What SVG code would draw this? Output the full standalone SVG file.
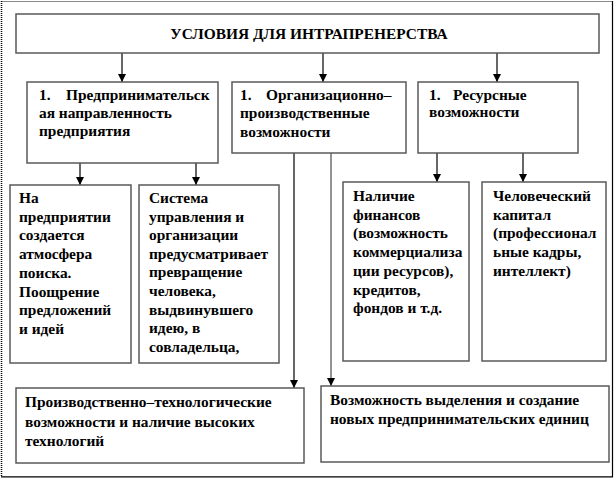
<svg xmlns="http://www.w3.org/2000/svg" width="615" height="478" viewBox="0 0 615 478">
<style>
text{font-family:"Liberation Serif","Times New Roman","DejaVu Serif",serif;font-weight:bold;font-size:15.4px;fill:#000}
.box{fill:#fff;stroke:#5a5a5a;stroke-width:1.5}
.c{stroke:#000;stroke-width:1.2;fill:none}
.g{stroke:#777;stroke-width:1.6;fill:none}
</style>
<defs>
<marker id="ah" viewBox="0 0 8 8" refX="8" refY="4" markerWidth="8" markerHeight="8" markerUnits="userSpaceOnUse" orient="auto">
<path d="M0,0 L8,4 L0,8 z" fill="#000"/>
</marker>
</defs>
<rect x="0" y="0" width="615" height="478" fill="#fff"/>
<g id="frame">
<line x1="1" y1="1.5" x2="613" y2="1.5" stroke="#888" stroke-width="1"/>
<line x1="612.5" y1="1" x2="612.5" y2="477" stroke="#000" stroke-width="1.2"/>
<line x1="1" y1="476.8" x2="613" y2="476.8" stroke="#000" stroke-width="1.2"/>
<line x1="1.5" y1="1" x2="1.5" y2="477" stroke="#000" stroke-width="1.5" stroke-dasharray="1,1"/>
</g>
<g id="connectors">
<line class="c" x1="122" y1="53" x2="122" y2="82" marker-end="url(#ah)"/>
<line class="c" x1="323" y1="53" x2="323" y2="82" marker-end="url(#ah)"/>
<line class="c" x1="497" y1="53" x2="497" y2="82" marker-end="url(#ah)"/>
<line class="c" x1="80" y1="163" x2="80" y2="185" marker-end="url(#ah)"/>
<line class="c" x1="196" y1="163" x2="196" y2="185" marker-end="url(#ah)"/>
<line class="c" x1="437" y1="153" x2="437" y2="182" marker-end="url(#ah)"/>
<line class="c" x1="523" y1="153" x2="523" y2="182" marker-end="url(#ah)"/>
<line class="c" x1="294" y1="153" x2="294" y2="388" marker-end="url(#ah)"/>
<line class="g" x1="331" y1="153" x2="331" y2="386" marker-end="url(#ah)"/>
</g>
<g id="top">
<rect class="box" x="16" y="14" width="583" height="39"/>
<text x="309" y="39" text-anchor="middle">УСЛОВИЯ ДЛЯ ИНТРАПРЕНЕРСТВА</text>
</g>
<g id="nodeA">
<rect class="box" x="27" y="82" width="191" height="81"/>
<text x="39" y="100">1.</text>
<text x="66" y="100">Предпринимательск</text>
<text x="39" y="118">ая направленность</text>
<text x="39" y="136">предприятия</text>
</g>
<g id="nodeB">
<rect class="box" x="232" y="82" width="174" height="71"/>
<text x="240" y="100">1.</text>
<text x="266" y="100">Организационно–</text>
<text x="240" y="118">производственные</text>
<text x="240" y="137">возможности</text>
</g>
<g id="nodeC">
<rect class="box" x="418" y="82" width="160" height="71"/>
<text x="429" y="100">1.</text>
<text x="453" y="100">Ресурсные</text>
<text x="429" y="117">возможности</text>
</g>
<g id="nodeD">
<rect class="box" x="10" y="185" width="121" height="178"/>
<text x="19" y="203">На</text>
<text x="19" y="221.7">предприятии</text>
<text x="19" y="240.4">создается</text>
<text x="19" y="259">атмосфера</text>
<text x="19" y="277.8">поиска.</text>
<text x="19" y="296.5">Поощрение</text>
<text x="19" y="315">предложений</text>
<text x="19" y="334">и идей</text>
</g>
<g id="nodeE">
<rect class="box" x="139" y="185" width="140" height="178"/>
<text x="149" y="203">Система</text>
<text x="149" y="221.6">управления и</text>
<text x="149" y="240.2">организации</text>
<text x="149" y="258.8">предусматривает</text>
<text x="149" y="277.4">превращение</text>
<text x="149" y="296">человека,</text>
<text x="149" y="314.6">выдвинувшего</text>
<text x="149" y="333.2">идею, в</text>
<text x="149" y="351.8">совладельца,</text>
</g>
<g id="nodeF">
<rect class="box" x="343" y="182" width="126" height="179"/>
<text x="353" y="201">Наличие</text>
<text x="353" y="219.7">финансов</text>
<text x="353" y="238.4">(возможность</text>
<text x="353" y="257">коммерциализа</text>
<text x="353" y="275.8">ции ресурсов),</text>
<text x="353" y="294.5">кредитов,</text>
<text x="353" y="313">фондов  и т.д.</text>
</g>
<g id="nodeG">
<rect class="box" x="482" y="182" width="124" height="179"/>
<text x="493" y="201">Человеческий</text>
<text x="493" y="219.7">капитал</text>
<text x="493" y="238.4">(профессионал</text>
<text x="493" y="257">ьные кадры,</text>
<text x="493" y="275.8">интеллект)</text>
</g>
<g id="nodeH">
<rect class="box" x="16" y="388" width="288" height="75"/>
<text x="25" y="407">Производственно–технологические</text>
<text x="25" y="426.5">возможности и наличие высоких</text>
<text x="25" y="446">технологий</text>
</g>
<g id="nodeI">
<rect class="box" x="321" y="386" width="288" height="76"/>
<text x="330" y="405">Возможность выделения и создание</text>
<text x="330" y="424">новых предпринимательских единиц</text>
</g>
</svg>
